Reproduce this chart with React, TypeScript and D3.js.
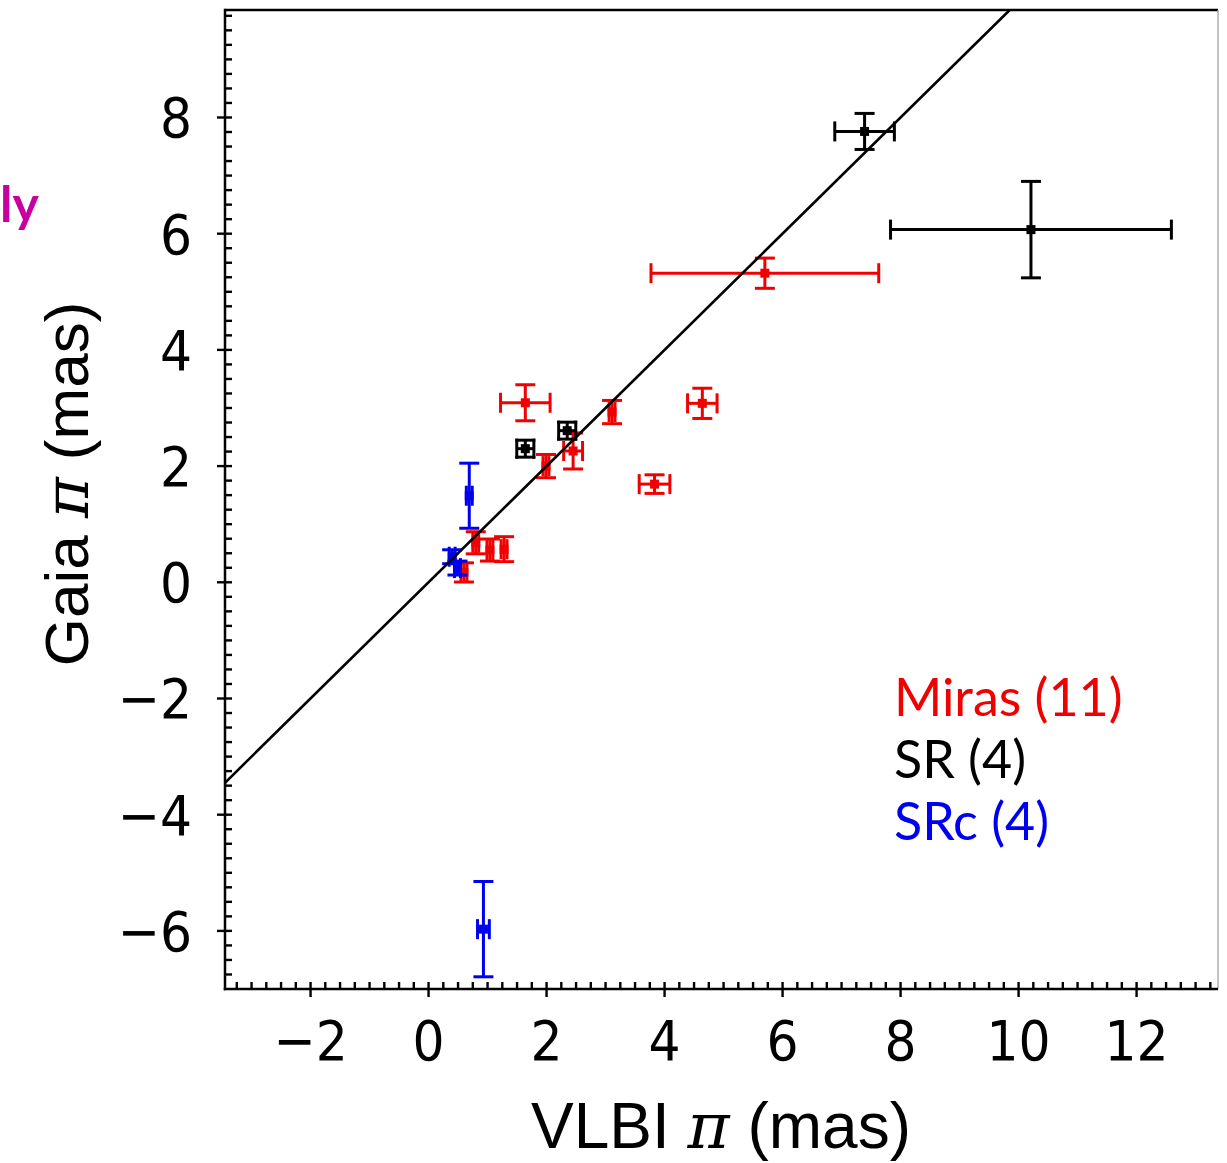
import React from "react";
import * as d3 from "d3";

// ---- data ----
const mirasX = [5.70, 4.64, 1.64, 3.83, 2.45, 3.11, 1.99, 0.80, 1.04, 1.28, 0.60];
const mirasY = [5.32, 3.08, 3.09, 1.69, 2.26, 2.93, 2.00, 0.68, 0.555, 0.57, 0.17];
const mirasXErr = [1.93, 0.25, 0.42, 0.26, 0.16, 0.05, 0.05, 0.05, 0.05, 0.05, 0.05];
const mirasYErr = [0.26, 0.26, 0.31, 0.16, 0.31, 0.20, 0.20, 0.19, 0.19, 0.215, 0.165];

const srX = [7.39, 10.21, 1.64, 2.35];
const srY = [7.76, 6.07, 2.30, 2.61];
const srXErr = [0.505, 2.38, 0.145, 0.145];
const srYErr = [0.31, 0.83, 0.146, 0.146];

const srcX = [0.69, 0.93, 0.40, 0.49];
const srcY = [1.49, -5.97, 0.44, 0.245];
const srcXErr = [0.05, 0.10, 0.05, 0.05];
const srcYErr = [0.56, 0.82, 0.12, 0.12];

const xTicks = [-2, 0, 2, 4, 6, 8, 10, 12];
const yTicks = [-6, -4, -2, 0, 2, 4, 6, 8];
const legendLabels = ["Miras (11)", "SR (4)", "SRc (4)"];

const W = 1227, H = 1163;
const L = 225, R = 1218, T = 10, B = 989;
const xDomain = [-3.45, 13.38];
const yDomain = [-7, 9.85];

const RED = "#f00000";
const BLUE = "#0000f0";
const BLACK = "#000";

const tickFont = "'Liberation Sans Narrow', 'DejaVu Sans Condensed', 'Liberation Sans', sans-serif";
const labelFont = "'Liberation Sans', 'DejaVu Sans', sans-serif";
const legendFont = "Lato, 'Open Sans', sans-serif";

function fmt(v: number) {
  return v < 0 ? "\u2212" + Math.abs(v) : String(v);
}

export default function App() {
  const x = d3.scaleLinear().domain(xDomain).range([L, R]);
  const y = d3.scaleLinear().domain(yDomain).range([B, T]);

  const minorX = d3.range(-3.25, 13.38, 0.25).filter((v) => Math.abs(v / 2 - Math.round(v / 2)) > 1e-6);
  const minorY = d3.range(-6.75, 9.85, 0.25).filter((v) => Math.abs(v / 2 - Math.round(v / 2)) > 1e-6);

  const series = [
    { xs: mirasX, ys: mirasY, xe: mirasXErr, ye: mirasYErr, color: RED },
    { xs: srX, ys: srY, xe: srXErr, ye: srYErr, color: BLACK },
    { xs: srcX, ys: srcY, xe: srcXErr, ye: srcYErr, color: BLUE },
  ];
  const cap = 10;
  const lw = 3;

  // 1:1 line, clipped to plot area
  const lineLo = Math.max(xDomain[0], yDomain[0]);
  const lineHi = Math.min(xDomain[1], yDomain[1]);
  const linePath = d3.line<number>().x((d) => x(d)).y((d) => y(d))([lineLo, lineHi]);

  return (
    <div style={{ position: "absolute", left: 0, top: 0 }}>
      <svg width={W} height={H} style={{ display: "block", background: "#fff" }}>
        <defs>
          <clipPath id="plotclip">
            <rect x={L} y={T} width={R - L} height={B - T} />
          </clipPath>
        </defs>

        {/* magenta partial text */}
        <text x={0} y={222} textAnchor="start" fontFamily={legendFont} fontWeight="bold" fontSize={50} fill="#c800a0">
          ly
        </text>

        {/* data */}
        <g clipPath="url(#plotclip)">
          {series.map((s, si) => (
            <g key={si} stroke={s.color} fill={s.color} strokeWidth={lw}>
              {s.xs.map((xv, i) => {
                const cx = x(xv), cy = y(s.ys[i]);
                const x0 = x(xv - s.xe[i]), x1 = x(xv + s.xe[i]);
                const y0 = y(s.ys[i] - s.ye[i]), y1 = y(s.ys[i] + s.ye[i]);
                return (
                  <g key={i}>
                    <line x1={x0} x2={x1} y1={cy} y2={cy} />
                    <line x1={x0} x2={x0} y1={cy - cap} y2={cy + cap} />
                    <line x1={x1} x2={x1} y1={cy - cap} y2={cy + cap} />
                    <line x1={cx} x2={cx} y1={y0} y2={y1} />
                    <line x1={cx - cap} x2={cx + cap} y1={y0} y2={y0} />
                    <line x1={cx - cap} x2={cx + cap} y1={y1} y2={y1} />
                    <rect x={cx - 4.5} y={cy - 4.5} width={9} height={9} stroke="none" />
                  </g>
                );
              })}
            </g>
          ))}
          <path d={linePath || ""} stroke="#000" strokeWidth={2.6} fill="none" />
        </g>

        {/* spines */}
        <line x1={L} x2={R} y1={T} y2={T} stroke="#000" strokeWidth={2.5} />
        <line x1={R} x2={R} y1={T} y2={B} stroke="#999" strokeWidth={1.2} />
        <line x1={L} x2={L} y1={T - 1.25} y2={B + 1.25} stroke="#000" strokeWidth={2.5} />
        <line x1={L - 1.25} x2={R} y1={B} y2={B} stroke="#000" strokeWidth={2.5} />

        {/* ticks */}
        <g stroke="#000" strokeWidth={2.4}>
          {minorX.map((v) => (
            <line key={"mx" + v} x1={x(v)} x2={x(v)} y1={B} y2={B - 7} />
          ))}
          {xTicks.map((v) => (
            <line key={"Mx" + v} x1={x(v)} x2={x(v)} y1={B + 8} y2={B - 7} />
          ))}
          {minorY.map((v) => (
            <line key={"my" + v} x1={L} x2={L + 7} y1={y(v)} y2={y(v)} />
          ))}
          {yTicks.map((v) => (
            <line key={"My" + v} x1={L - 8} x2={L + 7} y1={y(v)} y2={y(v)} />
          ))}
        </g>

        {/* tick labels */}
        <g fontFamily={tickFont} fontSize={56} fill="#000">
          {xTicks.map((v) => (
            <text key={"lx" + v} x={x(v)} y={1060} textAnchor="middle">
              {fmt(v)}
            </text>
          ))}
          {yTicks.map((v) => (
            <text key={"ly" + v} x={192} y={y(v) + 20} textAnchor="end">
              {fmt(v)}
            </text>
          ))}
        </g>

        {/* axis labels */}
        <text x={721} y={1148} textAnchor="middle" fontFamily={labelFont} fontSize={64} fill="#000">
          VLBI{" "}
          <tspan fontFamily="'DejaVu Serif', serif" fontStyle="italic">
            π
          </tspan>{" "}
          (mas)
        </text>
        <text
          transform={`translate(88, 484) rotate(-90)`}
          textAnchor="middle"
          fontFamily={labelFont}
          fontSize={62}
          fill="#000"
        >
          Gaia{" "}
          <tspan fontFamily="'DejaVu Serif', serif" fontStyle="italic">
            π
          </tspan>{" "}
          (mas)
        </text>

        {/* legend */}
        <g fontFamily={legendFont} fontSize={52}>
          <text x={894} y={716} fill={RED}>{legendLabels[0]}</text>
          <text x={894} y={778} fill={BLACK}>{legendLabels[1]}</text>
          <text x={894} y={840} fill={BLUE}>{legendLabels[2]}</text>
        </g>
      </svg>
    </div>
  );
}
